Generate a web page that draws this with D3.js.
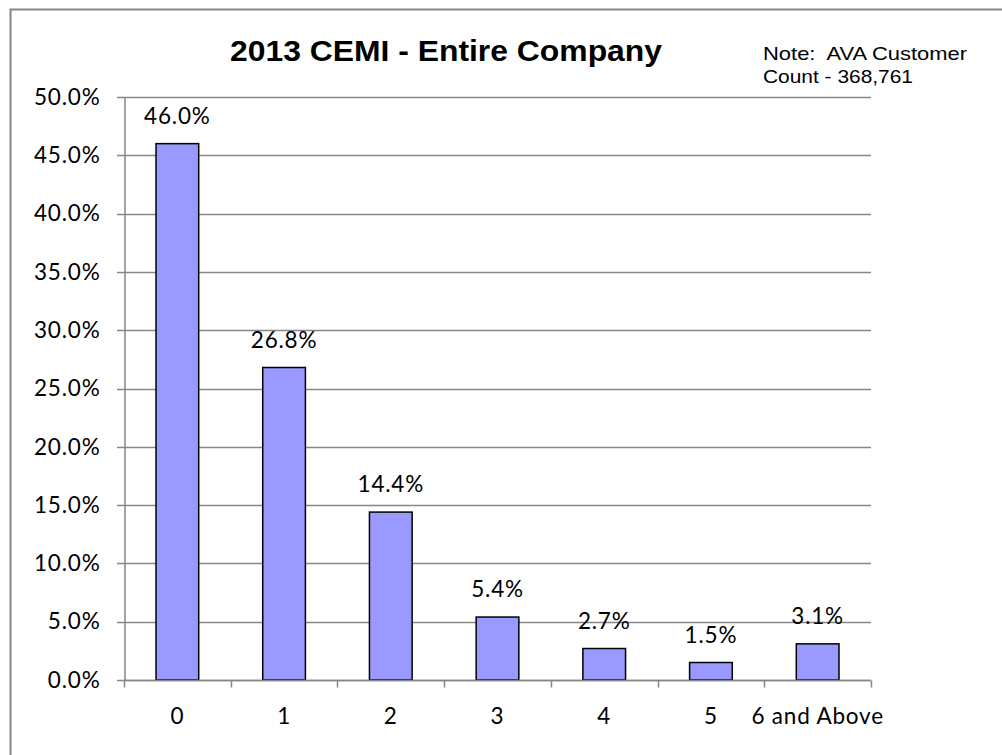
<!DOCTYPE html>
<html><head><meta charset="utf-8">
<script src="https://cdn.jsdelivr.net/npm/d3@7"></script>
<style>body{margin:0;background:#fff}svg{display:block}</style>
</head><body>
<svg id="c" width="1002" height="755"></svg>
<script>
const categories = ["0","1","2","3","4","5","6 and Above"];
const values = [46.0, 26.8, 14.4, 5.4, 2.7, 1.5, 3.1];
const yTicks = [0,5,10,15,20,25,30,35,40,45,50];
const title = "2013 CEMI - Entire Company";
const noteLines = ["Note:  AVA Customer", "Count - 368,761"];

const svg = d3.select("#c");
const lblFont = "Lato, 'Open Sans', sans-serif";
const lblSize = 22.5, lblSpacing = 0.8;
svg.append("rect").attr("x",10.5).attr("y",9.5).attr("width",1000).attr("height",760)
  .attr("fill","#fff").attr("stroke","#868686").attr("stroke-width",2);

const L=124, R=871, T=97, B=680;
const x = d3.scaleBand().domain(categories).range([L,R]).paddingInner(0.6).paddingOuter(0.3);
const y = d3.scaleLinear().domain([0,50]).range([B,T]);

// gridlines
svg.append("g").selectAll("line").data(yTicks).join("line")
  .attr("x1",L-7).attr("x2",R).attr("y1",d=>Math.round(y(d))+0.5).attr("y2",d=>Math.round(y(d))+0.5)
  .attr("stroke","#868686").attr("stroke-width",1.5);

// y axis
const yAxis = d3.axisLeft(y).tickValues(yTicks).tickSize(0).tickPadding(24)
  .tickFormat(d=>d.toFixed(1)+"%");
const ya = svg.append("g").attr("transform",`translate(${L+0.5},0)`).call(yAxis);
ya.select(".domain").attr("stroke","#868686").attr("stroke-width",1.5);
ya.selectAll("text").attr("font-family",lblFont).attr("font-size",lblSize)
  .attr("letter-spacing",lblSpacing).attr("fill","#000");

// bars
svg.selectAll("rect.bar").data(values).join("rect").attr("class","bar")
  .attr("x",(d,i)=>x(categories[i])).attr("width",x.bandwidth())
  .attr("y",d=>y(d)).attr("height",d=>B-y(d))
  .attr("fill","#9999FF").attr("stroke","#000").attr("stroke-width",1.5);

// x axis
const xPos = d3.scaleLinear().domain([0,categories.length]).range([L,R]);
const xa = svg.append("g").attr("transform",`translate(0,${B+0.5})`);
xa.append("line").attr("x1",L).attr("x2",R).attr("stroke","#868686").attr("stroke-width",1.5);
xa.selectAll("line.t").data(d3.range(categories.length+1)).join("line").attr("class","t")
  .attr("x1",d=>Math.round(xPos(d))+0.5).attr("x2",d=>Math.round(xPos(d))+0.5)
  .attr("y1",0).attr("y2",7).attr("stroke","#868686").attr("stroke-width",1.5);
xa.selectAll("text").data(categories).join("text")
  .attr("x",d=>x(d)+x.bandwidth()/2).attr("y",43)
  .attr("text-anchor","middle").attr("font-family",lblFont).attr("font-size",lblSize)
  .attr("letter-spacing",lblSpacing).text(d=>d);

// data labels
svg.selectAll("text.dl").data(values).join("text").attr("class","dl")
  .attr("x",(d,i)=>x(categories[i])+x.bandwidth()/2).attr("y",d=>y(d)-20)
  .attr("text-anchor","middle").attr("font-family",lblFont).attr("font-size",lblSize)
  .attr("letter-spacing",lblSpacing).text(d=>d.toFixed(1)+"%");

// title
svg.append("text").attr("x",230).attr("y",61)
  .attr("font-family","'Liberation Sans', Arial, sans-serif").attr("font-weight","bold")
  .attr("font-size",29).attr("textLength",432).attr("lengthAdjust","spacingAndGlyphs").text(title);
const noteLen = [204, 150];
svg.append("g").selectAll("text").data(noteLines).join("text")
  .attr("x",763).attr("y",(d,i)=>60+i*23).style("white-space","pre")
  .attr("font-family","'Liberation Sans', Arial, sans-serif").attr("font-size",18.5)
  .attr("textLength",(d,i)=>noteLen[i]).attr("lengthAdjust","spacingAndGlyphs").text(d=>d);
</script>
</body></html>
